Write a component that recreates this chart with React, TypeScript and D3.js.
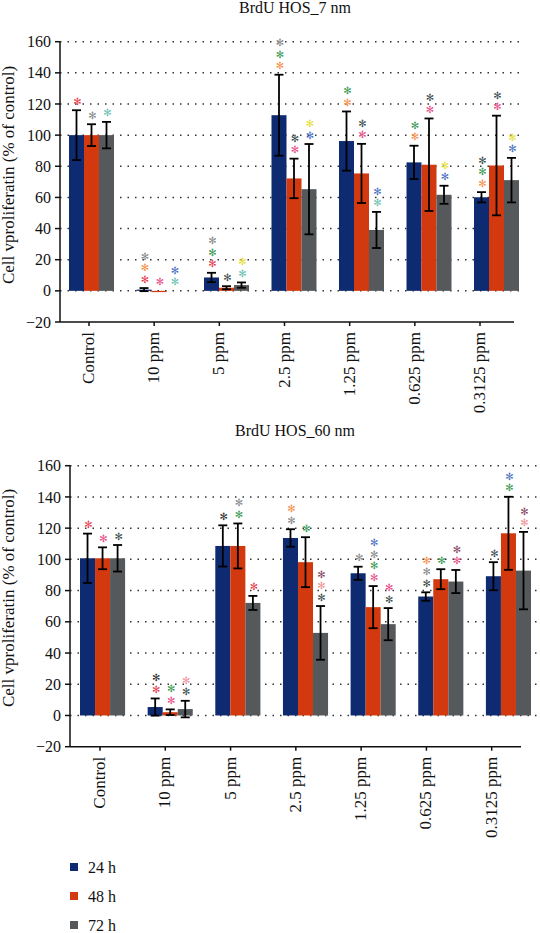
import React from "react";
import * as d3 from "d3";

const categories = ["Control", "10 ppm", "5 ppm", "2.5 ppm", "1.25 ppm", "0.625 ppm", "0.3125 ppm"];
const seriesNames = ["24 h", "48 h", "72 h"];
const yTicks = [-20, 0, 20, 40, 60, 80, 100, 120, 140, 160];

// BrdU HOS_7 nm
const mean7_24 = [100, 0.8, 8.6, 112.8, 96.2, 82.5, 60.1];
const err7_24 = [16, 1, 3, 26, 19, 10.7, 3.3];
const mean7_48 = [100, -0.8, 2, 72.2, 75.4, 81, 80.5];
const err7_48 = [7, 0, 1, 12.7, 19, 29.7, 32];
const mean7_72 = [100, 0, 3.7, 65.3, 39.1, 61.7, 71.1];
const err7_72 = [8.5, 0, 1.7, 29, 11.6, 5.8, 14.3];

// BrdU HOS_60 nm
const mean60_24 = [100.7, 5.4, 108.6, 113.7, 91.1, 76.2, 89.2];
const err60_24 = [15.8, 5.5, 13.2, 5.6, 4.2, 2.7, 9];
const mean60_48 = [100.7, 2.1, 108.6, 98.2, 69.4, 87.3, 116.7];
const err60_48 = [7, 1.8, 14.4, 16, 13.5, 6.4, 23.4];
const mean60_72 = [100.7, 4.1, 72.1, 52.9, 58.5, 85.8, 92.8];
const err60_72 = [8.5, 5.3, 4.5, 17.2, 10.3, 7.4, 24.8];

// significance marks (top to bottom), colour keys
const stars7_24 = [["r"], ["g", "o", "r"], ["g", "G", "r"], ["g", "G", "o"], ["G", "o"], ["G", "o"], ["d", "G", "o"]];
const stars7_48 = [["g"], ["p"], ["d"], ["d", "p"], ["d", "p"], ["d", "p"], ["d", "p"]];
const stars7_72 = [["t"], ["b", "t"], ["y", "t"], ["y", "b"], ["b", "t"], ["y", "b"], ["y", "b"]];
const stars60_24 = [["r"], ["k", "r"], ["k"], ["o", "g"], ["g"], ["o", "g", "d"], ["d"]];
const stars60_48 = [["p"], ["G", "p"], ["g", "G"], ["G"], ["b", "g", "G", "p"], ["G"], ["b", "G"]];
const stars60_72 = [["d"], ["s", "d"], ["r"], ["m", "s", "d"], ["p", "d"], ["m", "p"], ["m", "s"]];

const barColors = ["#0e2a70", "#d3390e", "#56595c"];
const starColors: Record<string, string> = {
  r: "#e8414f",
  g: "#8a8a8a",
  t: "#6cc2b2",
  o: "#f4914a",
  p: "#e8508a",
  b: "#4d72c2",
  G: "#3e9a55",
  y: "#e6e03a",
  d: "#3f5252",
  m: "#8a4a66",
  s: "#f0949a",
  k: "#333333",
};

const FONT = "'Liberation Serif', 'Times New Roman', serif";

type Panel = {
  title: string;
  titleY: number;
  means: number[][];
  errs: number[][];
  stars: string[][][];
  yTop: number;
  yBottom: number;
  axisX: number;
  axisEnd: number;
  gridEnd: number;
  tickRange: [number, number];
  barRange: [number, number];
  yTitleY: number;
};

const panels: Panel[] = [
  {
    title: "BrdU HOS_7 nm",
    titleY: 13,
    means: [mean7_24, mean7_48, mean7_72],
    errs: [err7_24, err7_48, err7_72],
    stars: [stars7_24, stars7_48, stars7_72],
    yTop: 41.7,
    yBottom: 322,
    axisX: 60,
    axisEnd: 514,
    gridEnd: 521,
    tickRange: [89, 480],
    barRange: [69, 519],
    yTitleY: 175,
  },
  {
    title: "BrdU HOS_60 nm",
    titleY: 436,
    means: [mean60_24, mean60_48, mean60_72],
    errs: [err60_24, err60_48, err60_72],
    stars: [stars60_24, stars60_48, stars60_72],
    yTop: 465.7,
    yBottom: 746.7,
    axisX: 70,
    axisEnd: 521,
    gridEnd: 539,
    tickRange: [100, 491.7],
    barRange: [80, 531],
    yTitleY: 598,
  },
];

function ChartPanel({ p }: { p: Panel }) {
  const y = d3.scaleLinear().domain([-20, 160]).range([p.yBottom, p.yTop]);
  const xTick = d3.scalePoint<string>().domain(categories).range(p.tickRange);
  const xGroup = d3.scaleBand<string>().domain(categories).range(p.barRange).paddingInner(1 / 3).paddingOuter(0);
  const xSub = d3.scaleBand<string>().domain(seriesNames).range([0, xGroup.bandwidth()]);
  const y0 = y(0);
  return (
    <g>
      <text x={295} y={p.titleY} textAnchor="middle" fontFamily={FONT} fontSize={16} fill="#111">
        {p.title}
      </text>
      {yTicks
        .filter((t) => t >= 0)
        .map((t) => (
          <line
            key={"g" + t}
            x1={p.axisX}
            x2={p.gridEnd}
            y1={y(t)}
            y2={y(t)}
            stroke="#333"
            strokeWidth={1.5}
            strokeDasharray="1.5 6"
          />
        ))}
      {seriesNames.map((s, si) =>
        categories.map((c, ci) => {
          const v = p.means[si][ci];
          const x = (xGroup(c) as number) + (xSub(s) as number);
          const w = xSub.bandwidth();
          const yv = y(v);
          return (
            <rect
              key={s + c}
              x={x}
              y={Math.min(yv, y0)}
              width={w}
              height={Math.abs(y0 - yv)}
              fill={barColors[si]}
            />
          );
        })
      )}
      {seriesNames.map((s, si) =>
        categories.map((c, ci) => {
          const v = p.means[si][ci];
          const e = p.errs[si][ci];
          if (e <= 0) return null;
          const cx = (xGroup(c) as number) + (xSub(s) as number) + xSub.bandwidth() / 2;
          const t = y(v + e);
          const b = y(v - e);
          return (
            <g key={"e" + s + c} stroke="#000" strokeWidth={1.8}>
              <line x1={cx} x2={cx} y1={t} y2={b} />
              <line x1={cx - 4.5} x2={cx + 4.5} y1={t} y2={t} />
              <line x1={cx - 4.5} x2={cx + 4.5} y1={b} y2={b} />
            </g>
          );
        })
      )}
      {seriesNames.map((s, si) =>
        categories.map((c, ci) => {
          const v = p.means[si][ci];
          const e = p.errs[si][ci];
          const cx = (xGroup(c) as number) + (xSub(s) as number) + xSub.bandwidth() / 2 + 1;
          const top = Math.min(y(v + e), y(v), y0);
          const list = p.stars[si][ci];
          const n = list.length;
          return list.map((k, i) => (
            <text
              key={"s" + s + c + i}
              x={cx}
              y={top - 9 - (n - 1 - i) * 11.5}
              dy="0.35em"
              textAnchor="middle"
              fontFamily="'DejaVu Sans', sans-serif"
              fontSize={10}
              fill={starColors[k]}
            >
              ✻
            </text>
          ));
        })
      )}
      <line x1={p.axisX} x2={p.axisX} y1={p.yTop} y2={p.yBottom} stroke="#111" strokeWidth={1.5} />
      {yTicks.map((t) => (
        <g key={"yt" + t}>
          <line x1={p.axisX - 5} x2={p.axisX} y1={y(t)} y2={y(t)} stroke="#111" strokeWidth={1.5} />
          <text
            x={p.axisX - 9}
            y={y(t)}
            dy="0.35em"
            textAnchor="end"
            fontFamily={FONT}
            fontSize={16}
            fill="#111"
          >
            {t < 0 ? "\u2212" + Math.abs(t) : t}
          </text>
        </g>
      ))}
      <text
        transform={`translate(${14},${p.yTitleY}) rotate(-90)`}
        textAnchor="middle"
        fontFamily={FONT}
        fontSize={17}
        fill="#111"
      >
        Cell vproliferatin (% of control)
      </text>
      <line x1={p.axisX} x2={p.axisEnd} y1={p.yBottom} y2={p.yBottom} stroke="#111" strokeWidth={1.5} />
      {categories.map((c) => {
        const tx = xTick(c) as number;
        return (
          <g key={"xt" + c}>
            <line x1={tx} x2={tx} y1={p.yBottom} y2={p.yBottom + 4} stroke="#111" strokeWidth={1.5} />
            <text
              transform={`translate(${tx + 5},${p.yBottom + 10}) rotate(-90)`}
              textAnchor="end"
              fontFamily={FONT}
              fontSize={17}
              fill="#111"
            >
              {c}
            </text>
          </g>
        );
      })}
    </g>
  );
}

export default function App() {
  const legendY = d3.scalePoint<string>().domain(seriesNames).range([867, 925]);
  return (
    <div style={{ position: "absolute", left: 0, top: 0, width: 540, height: 933, background: "#fff" }}>
      <svg width={540} height={933} style={{ display: "block" }}>
        <rect x={0} y={0} width={540} height={933} fill="#fff" />
        {panels.map((p) => (
          <ChartPanel key={p.title} p={p} />
        ))}
        {seriesNames.map((s, i) => {
          const cy = legendY(s) as number;
          return (
            <g key={"lg" + s}>
              <rect x={70} y={cy - 4} width={8} height={8} fill={barColors[i]} />
              <text x={88} y={cy} dy="0.35em" fontFamily={FONT} fontSize={16} fill="#111">
                {s}
              </text>
            </g>
          );
        })}
      </svg>
    </div>
  );
}
